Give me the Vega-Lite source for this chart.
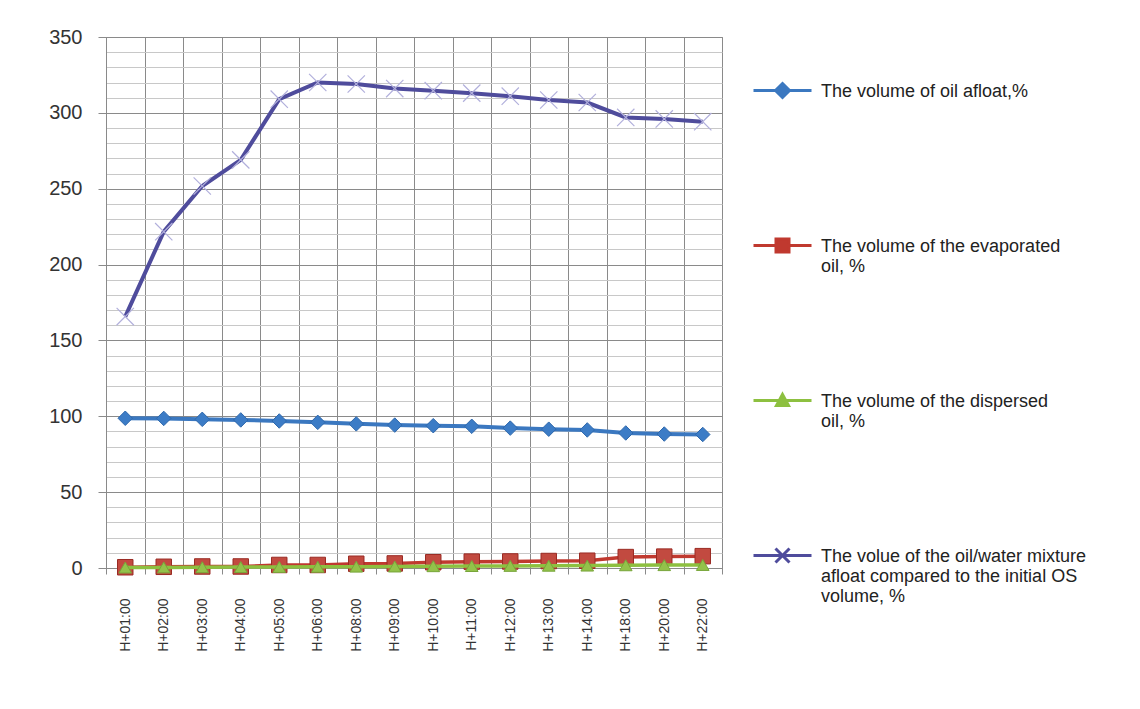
{
  "$schema": "https://vega.github.io/schema/vega-lite/v6.json",
  "width": 616,
  "height": 531,
  "autosize": "none",
  "padding": {"left": 106, "top": 37, "right": 418, "bottom": 141},
  "background": "white",
  "config": {
    "view": {"stroke": "#8a8a8a", "strokeWidth": 1},
    "font": "Liberation Sans"
  },
  "data": {
    "values": [
      {"t": "H+01:00", "a": 98.7, "b": 0.5, "c": 0.3, "d": 165.7},
      {"t": "H+02:00", "a": 98.6, "b": 0.8, "c": 0.4, "d": 221.7},
      {"t": "H+03:00", "a": 98.0, "b": 1.0, "c": 0.5, "d": 251.8},
      {"t": "H+04:00", "a": 97.6, "b": 1.0, "c": 0.6, "d": 269},
      {"t": "H+05:00", "a": 96.9, "b": 2.0, "c": 0.7, "d": 309},
      {"t": "H+06:00", "a": 96.0, "b": 2.0, "c": 0.8, "d": 320},
      {"t": "H+08:00", "a": 95.0, "b": 2.8, "c": 0.9, "d": 319},
      {"t": "H+09:00", "a": 94.2, "b": 3.0, "c": 1.0, "d": 316},
      {"t": "H+10:00", "a": 93.8, "b": 3.8, "c": 1.2, "d": 314.6},
      {"t": "H+11:00", "a": 93.4, "b": 4.2, "c": 1.3, "d": 313},
      {"t": "H+12:00", "a": 92.2, "b": 4.3, "c": 1.4, "d": 311},
      {"t": "H+13:00", "a": 91.5, "b": 4.6, "c": 1.5, "d": 308.5},
      {"t": "H+14:00", "a": 91.0, "b": 4.8, "c": 1.6, "d": 306.8},
      {"t": "H+18:00", "a": 89.0, "b": 7.2, "c": 1.8, "d": 297},
      {"t": "H+20:00", "a": 88.3, "b": 7.5, "c": 1.9, "d": 296},
      {"t": "H+22:00", "a": 88.0, "b": 7.8, "c": 2.0, "d": 294.2}
    ]
  },
  "transform": [{"fold": ["a", "b", "c", "d"], "as": ["series", "v"]}],
  "encoding": {
    "x": {
      "field": "t", "type": "nominal", "sort": null,
      "scale": {"paddingInner": 0, "paddingOuter": 0},
      "axis": {
        "title": null, "labelAngle": -90, "labelFontSize": 14, "labelPadding": 24,
        "tickBand": "extent", "grid": true, "gridColor": "#8a8a8a",
        "tickSize": 6, "tickColor": "#8a8a8a", "domainColor": "#8a8a8a", "labelColor": "#333333"
      }
    },
    "y": {
      "field": "v", "type": "quantitative",
      "scale": {"domain": [0, 350], "nice": false},
      "axis": {
        "title": null,
        "values": [0,10,20,30,40,50,60,70,80,90,100,110,120,130,140,150,160,170,180,190,200,210,220,230,240,250,260,270,280,290,300,310,320,330,340,350],
        "labelExpr": "datum.value % 50 == 0 ? datum.label : ''",
        "gridColor": {"condition": {"test": "datum.value % 50 == 0", "value": "#8a8a8a"}, "value": "#c8c8c8"},
        "tickOpacity": {"condition": {"test": "datum.value % 50 == 0", "value": 1}, "value": 0},
        "tickSize": 8, "tickColor": "#8a8a8a", "domainColor": "#8a8a8a",
        "labelFontSize": 20, "labelPadding": 16, "labelColor": "#333333"
      }
    }
  },
  "layer": [
    {"transform": [{"filter": {"field": "series", "equal": "a"}}],
     "mark": {"type": "line", "color": "#3B78C0", "strokeWidth": 4}, "encoding": {}},
    {"transform": [{"filter": {"field": "series", "equal": "a"}}],
     "mark": {"type": "point", "shape": "diamond", "filled": true, "size": 210, "fill": "#3C7CC6", "stroke": "#2E68AC", "strokeWidth": 1, "opacity": 1}, "encoding": {}},
    {"transform": [{"filter": {"field": "series", "equal": "b"}}],
     "mark": {"type": "line", "color": "#C0392F", "strokeWidth": 3.5}, "encoding": {}},
    {"transform": [{"filter": {"field": "series", "equal": "b"}}],
     "mark": {"type": "point", "shape": "square", "filled": true, "size": 240, "fill": "#C24A40", "stroke": "#9A2B24", "strokeWidth": 1, "opacity": 1}, "encoding": {}},
    {"transform": [{"filter": {"field": "series", "equal": "c"}}],
     "mark": {"type": "line", "color": "#8DC040", "strokeWidth": 3.5}, "encoding": {}},
    {"transform": [{"filter": {"field": "series", "equal": "c"}}],
     "mark": {"type": "point", "shape": "triangle-up", "filled": true, "size": 160, "fill": "#93C24A", "stroke": "#78A53A", "strokeWidth": 1, "opacity": 1}, "encoding": {}},
    {"transform": [{"filter": {"field": "series", "equal": "d"}}],
     "mark": {"type": "line", "color": "#4F4C9C", "strokeWidth": 4}, "encoding": {}},
    {"transform": [{"filter": {"field": "series", "equal": "d"}}],
     "mark": {"type": "point", "shape": "M-1,-1L1,1M-1,1L1,-1", "filled": false, "size": 300, "stroke": "#B2B0DC", "strokeWidth": 1.2, "opacity": 1}, "encoding": {}},
    {
      "mark": {"type": "point", "opacity": 0, "strokeWidth": 3},
      "encoding": {
        "fill": {
          "field": "series", "type": "nominal",
          "scale": {"domain": ["a", "b", "c", "d"], "range": ["#3B78C0", "#C0392F", "#8DC040", "#4F4C9C"]}
        },
        "stroke": {
          "field": "series", "type": "nominal",
          "scale": {"domain": ["a", "b", "c", "d"], "range": ["#3B78C0", "#C0392F", "#8DC040", "#4F4C9C"]}
        },
        "shape": {
          "field": "series", "type": "nominal",
          "scale": {
            "domain": ["a", "b", "c", "d"],
            "range": [
              "M-2.9,0.8L2.9,0.8M0,0.1L0.7,0.8L0,1.5L-0.7,0.8Z",
              "M-2.9,0.8L2.9,0.8M-0.65,0.15L0.65,0.15L0.65,1.45L-0.65,1.45Z",
              "M-2.9,0.8L2.9,0.8M0,0.2L0.6,1.3L-0.6,1.3Z",
              "M-2.9,0.8L2.9,0.8M-0.7,0.1L0.7,1.5M-0.7,1.5L0.7,0.1"
            ]
          },
          "legend": {
            "title": null, "orient": "none", "legendX": 665, "legendY": 34,
            "padding": 0, "symbolSize": 400, "symbolStrokeWidth": 3, "symbolOpacity": 1,
            "labelFontSize": 18, "labelFont": "Liberation Sans",
            "labelColor": "#222222", "labelLimit": 500, "labelOffset": 27,
            "rowPadding": 85, "gridAlign": "all", "labelBaseline": "top",
            "labelExpr": "datum.value == 'a' ? 'The volume of oil afloat,%' : datum.value == 'b' ? ['The volume of the evaporated', 'oil, %'] : datum.value == 'c' ? ['The volume of the dispersed', 'oil, %'] : ['The volue of the oil/water mixture', 'afloat compared to the initial OS', 'volume, %']",
            "encode": {
              "symbols": {"opacity": {"value": 1}, "strokeWidth": {"value": 3}}
            }
          }
        }
      }
    }
  ]
}
